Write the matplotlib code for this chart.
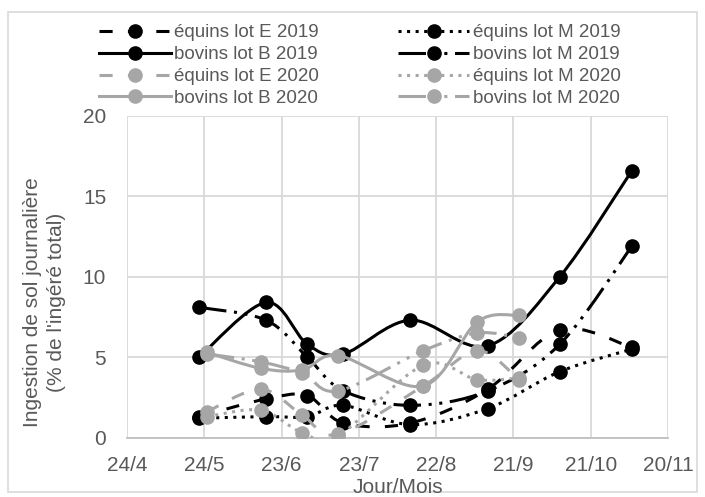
import matplotlib
matplotlib.use("agg")
import matplotlib.pyplot as plt
from matplotlib.path import Path
from matplotlib.patches import PathPatch, Rectangle
from matplotlib.lines import Line2D
import numpy as np

plt.rcParams["font.family"] = ["Liberation Sans", "DejaVu Sans"]

# sampling days (day of year), 2019 and 2020 campaigns
days_2019 = [142, 168, 184, 198, 224, 254, 282, 310]
days_2020 = [145, 166, 182, 196, 229, 250, 266]

# soil ingestion (% of total intake)
equins_E_2019 = [1.3, 2.4, 2.6, 0.9, 0.9, 3.0, 6.7, 5.6]
equins_M_2019 = [1.2, 1.3, 1.3, 2.0, 0.8, 1.8, 4.1, 5.5]
bovins_B_2019 = [5.0, 8.4, 5.8, 5.2, 7.3, 5.7, 10.0, 16.6]
bovins_M_2019 = [8.1, 7.3, 5.0, 2.9, 2.0, 2.9, 5.8, 11.9]
equins_E_2020 = [1.6, 3.0, 1.4, 0.2, 3.2, 5.4, 3.6]
equins_M_2020 = [1.3, 1.7, 0.3, 0.1, 4.5, 3.6, 3.7]
bovins_B_2020 = [5.3, 4.3, 4.2, 5.1, 3.2, 7.2, 7.6]
bovins_M_2020 = [5.2, 4.7, 4.0, 2.9, 5.4, 6.5, 6.2]

xtick_days = [114, 144, 174, 204, 234, 264, 294, 324]
xtick_labels = ["24/4", "24/5", "23/6", "23/7", "22/8", "21/9", "21/10", "20/11"]

BLACK = "#000000"
GREY = "#a6a6a6"
DASH = (0, (4.3, 5))
DOT = (0, (1, 1.8))
LDASHDOTDOT = (0, (9, 2.5, 1, 2.5, 1, 2.5))
SOLID = "-"

series = [
    ("équins lot E 2019", days_2019, equins_E_2019, BLACK, DASH),
    ("équins lot M 2019", days_2019, equins_M_2019, BLACK, DOT),
    ("bovins lot B 2019", days_2019, bovins_B_2019, BLACK, SOLID),
    ("bovins lot M 2019", days_2019, bovins_M_2019, BLACK, LDASHDOTDOT),
    ("équins lot E 2020", days_2020, equins_E_2020, GREY, DASH),
    ("équins lot M 2020", days_2020, equins_M_2020, GREY, DOT),
    ("bovins lot B 2020", days_2020, bovins_B_2020, GREY, SOLID),
    ("bovins lot M 2020", days_2020, bovins_M_2020, GREY, LDASHDOTDOT),
]

LW = 2.2
MS = 9.5


def smooth_path(x, y):
    # excel-like smoothed line: cubic bezier through the points
    pts = np.column_stack([x, y]).astype(float)
    n = len(pts)
    verts = [pts[0]]
    codes = [Path.MOVETO]
    for i in range(n - 1):
        p0 = pts[i - 1] if i > 0 else pts[i]
        p1 = pts[i]
        p2 = pts[i + 1]
        p3 = pts[i + 2] if i + 2 < n else pts[i + 1]
        verts += [p1 + (p2 - p0) / 6, p2 - (p3 - p1) / 6, p2]
        codes += [Path.CURVE4] * 3
    return Path(verts, codes)


fig = plt.figure(figsize=(7.05, 4.97), dpi=100)
ax = fig.add_axes([0.1801, 0.1197, 0.7674, 0.6469])

handles = []
for i, (label, x, y, color, ls) in enumerate(series):
    patch = PathPatch(smooth_path(x, y), fill=False, edgecolor=color, lw=LW,
                      linestyle=ls, zorder=3 + 2 * i)
    ax.add_patch(patch)
    ax.plot(x, y, linestyle="none", marker="o", ms=MS, color=color,
            zorder=4 + 2 * i)
    handles.append(Line2D([], [], color=color, lw=LW, linestyle=ls,
                          marker="o", ms=MS))

ax.set_xlim(114, 324)
ax.set_ylim(0, 20)
ax.set_xticks(xtick_days)
ax.set_xticklabels(xtick_labels)
ax.set_yticks([0, 5, 10, 15, 20])
ax.tick_params(length=0, labelsize=15, labelcolor="#595959")
ax.tick_params(axis="x", pad=13)
ax.tick_params(axis="y", pad=15)
ax.grid(True, color="#d9d9d9", lw=1.3, zorder=0)
ax.set_axisbelow(True)
for side in ["top", "right", "left"]:
    ax.spines[side].set_visible(False)
ax.spines["bottom"].set_color("#bfbfbf")
ax.spines["bottom"].set_linewidth(1.3)

fig.text(0.5638, 0.008, "Jour/Mois", ha="center", va="baseline",
         fontsize=15, color="#595959")
fig.text(0.063, 0.392, "Ingestion de sol journalière\n(% de l'ingéré total)",
         rotation=90, ha="center", va="center", fontsize=15,
         color="#595959", linespacing=1.3)

order = [0, 2, 4, 6, 1, 3, 5, 7]
fig.legend([handles[k] for k in order], [series[k][0] for k in order],
           ncol=2, loc="upper left", bbox_to_anchor=(0.117, 0.985),
           frameon=False, fontsize=13.5, handlelength=3.8, handletextpad=0.2,
           columnspacing=4.2, labelspacing=0.25, labelcolor="#595959")

fig.add_artist(Rectangle((0.011, 0.01), 0.978, 0.965, transform=fig.transFigure,
                         fill=False, edgecolor="#d9d9d9", lw=1.2))

fig.savefig("out.png", dpi=100)
